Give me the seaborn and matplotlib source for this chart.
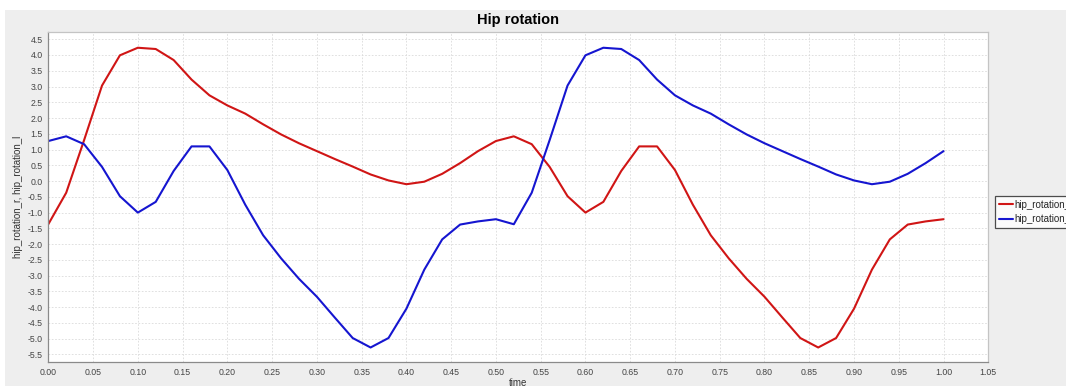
import numpy as np
import pandas as pd
import matplotlib
matplotlib.use("Agg")
import matplotlib.pyplot as plt
import seaborn as sns
from matplotlib.patches import Rectangle
from matplotlib.lines import Line2D

time = [round(0.02 * i, 2) for i in range(51)]

hip_rotation_r = [-1.37, -0.37, 1.30, 3.03, 3.99, 4.23, 4.19, 3.84, 3.22, 2.72,
                  2.40, 2.14, 1.80, 1.48, 1.20, 0.95, 0.70, 0.46, 0.21, 0.02,
                  -0.10, -0.02, 0.23, 0.57, 0.95, 1.27, 1.42, 1.17, 0.45, -0.48,
                  -1.00, -0.66, 0.32, 1.10, 1.10, 0.35, -0.75, -1.72, -2.45, -3.10,
                  -3.67, -4.33, -4.98, -5.28, -4.98, -4.05, -2.81, -1.85, -1.38, -1.28,
                  -1.21]

hip_rotation_l = [1.27, 1.42, 1.17, 0.45, -0.48, -1.00, -0.66, 0.32, 1.10, 1.10,
                  0.35, -0.75, -1.72, -2.45, -3.10, -3.67, -4.33, -4.98, -5.28, -4.98,
                  -4.05, -2.81, -1.85, -1.38, -1.28, -1.21, -1.37, -0.37, 1.30, 3.03,
                  3.99, 4.23, 4.19, 3.84, 3.22, 2.72, 2.40, 2.14, 1.80, 1.48,
                  1.20, 0.95, 0.70, 0.46, 0.21, 0.02, -0.10, -0.02, 0.23, 0.57,
                  0.95]

series_names = ["hip_rotation_r", "hip_rotation_l"]
series_colors = ["#d01515", "#1515d0"]
x_ticks = [round(0.05 * i, 2) for i in range(22)]
y_ticks = [round(-5.5 + 0.5 * i, 1) for i in range(21)]

df = pd.DataFrame({
    "time": time * 2,
    "value": hip_rotation_r + hip_rotation_l,
    "series": [series_names[0]] * len(time) + [series_names[1]] * len(time),
})

sns.set_style("white")
plt.rcParams["font.family"] = ["Liberation Sans", "DejaVu Sans"]

W, H = 1066, 386
fig = plt.figure(figsize=(W / 100, H / 100), dpi=100, facecolor="white")
# gray panel background
bg = Rectangle((5 / W, 0), 1 - 5 / W, 1 - 10 / H, transform=fig.transFigure,
               facecolor="#eeeeee", edgecolor="none", zorder=-10)
fig.add_artist(bg)

left, right, top, bottom = 48.3, 988.3, 32.3, 362.3
ax = fig.add_axes([left / W, (H - bottom) / H, (right - left) / W, (bottom - top) / H])
ax.set_zorder(1)
ax.set_facecolor("white")

sns.lineplot(data=df, x="time", y="value", hue="series", palette=series_colors,
             linewidth=1.5, ax=ax, legend=False)

ax.set_xlim(0, 1.05)
ax.set_ylim(-5.75, 4.72)
ax.set_xticks(x_ticks)
ax.set_xticklabels([f"{v:.2f}" for v in x_ticks])
ax.set_yticks(y_ticks)
ax.set_yticklabels([f"{v:.1f}" for v in y_ticks])
ax.tick_params(axis="both", labelsize=6.3, colors="#444444", length=2, width=0.6,
               direction="out", pad=2)
ax.tick_params(axis="both", color="#888888")

ax.grid(True, color="#dadada", linestyle=(0, (2, 2)), linewidth=0.6)
for s in ["left", "bottom"]:
    ax.spines[s].set_color("#8a8a8a")
    ax.spines[s].set_linewidth(0.9)
for s in ["top", "right"]:
    ax.spines[s].set_color("#c4c4c4")
    ax.spines[s].set_linewidth(0.9)

ax.set_xlabel("time", fontsize=7, color="#333333", labelpad=0.5)
ax.set_ylabel("hip_rotation_r, hip_rotation_l", fontsize=7, color="#333333", labelpad=3)
fig.text((left + right) / 2 / W, 1 - 20 / H, "Hip rotation", ha="center", va="center",
         fontsize=10.5, fontweight="bold", color="black", zorder=2)

handles = [Line2D([], [], color=c, linewidth=1.5) for c in series_colors]
leg = fig.legend(handles, series_names, loc="upper left",
                 bbox_to_anchor=(995 / W, 1 - 196 / H), bbox_transform=fig.transFigure,
                 fontsize=7.0, frameon=True, fancybox=False, handlelength=1.5,
                 handletextpad=0.12, borderpad=0.4, labelspacing=0.45, borderaxespad=0)
leg.get_frame().set_edgecolor("#222222")
leg.get_frame().set_linewidth(0.9)
leg.get_frame().set_facecolor("white")
leg.set_zorder(3)

fig.savefig("out.png", dpi=100, facecolor=fig.get_facecolor())
